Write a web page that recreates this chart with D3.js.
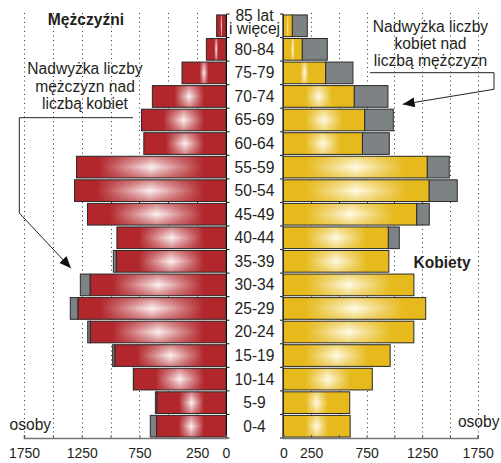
<!DOCTYPE html>
<html>
<head>
<meta charset="utf-8">
<script src="https://cdn.jsdelivr.net/npm/d3@7/dist/d3.min.js"></script>
<style>
  html, body { margin: 0; padding: 0; background: #fff; }
  svg { display: block; font-family: "Liberation Sans", Arial, sans-serif; }
</style>
</head>
<body>
<svg id="chart" width="501" height="463"></svg>
<script>
// ---- data ----
const ageGroups = ["85 lat|i więcej", "80-84", "75-79", "70-74", "65-69", "60-64", "55-59", "50-54",
  "45-49", "40-44", "35-39", "30-34", "25-29", "20-24", "15-19", "10-14", "5-9", "0-4"];
const men   = [81, 170, 381, 638, 732, 712, 1295, 1312, 1200, 945, 976, 1262, 1349, 1198, 982, 803, 612, 656];
const women = [216, 396, 627, 942, 990, 954, 1494, 1566, 1314, 1044, 950, 1176, 1282, 1175, 962, 801, 598, 602];
const tickValues = [0, 250, 500, 750, 1000, 1250, 1500, 1750];
const labeledTicks = [0, 250, 750, 1250, 1750];

const rows = ageGroups.map((a, i) => ({ age: a, men: men[i], women: women[i], i }));

const svg = d3.select("#chart");
const defs = svg.append("defs");

const y = d3.scaleBand().domain(ageGroups).range([14, 438]).paddingInner(0.08).paddingOuter(0.04);
const xL = d3.scaleLinear().domain([0, 1750]).range([226, 24]);
const xR = d3.scaleLinear().domain([0, 1750]).range([283.3, 477.7]);

const RED = "#b1272c", RED_L = "#fdf2f2";
const YEL = "#e6b91c", YEL_L = "#fffbe8";
const GREY = "#7d8285";
const TXT = "#231f20";

// vertical shading overlays
function vOverlay(id, color) {
  const g = defs.append("linearGradient").attr("id", id).attr("x1", 0).attr("x2", 0).attr("y1", 0).attr("y2", 1);
  g.append("stop").attr("offset", 0).attr("stop-color", color).attr("stop-opacity", 0.55);
  g.append("stop").attr("offset", 0.5).attr("stop-color", color).attr("stop-opacity", 0);
  g.append("stop").attr("offset", 1).attr("stop-color", color).attr("stop-opacity", 0.55);
}
vOverlay("vRed", RED);
vOverlay("vYel", YEL);

function hGrad(id, w, dark, light) {
  const m = Math.min(22, 0.4 * w) / w;
  const g = defs.append("linearGradient").attr("id", id).attr("x1", 0).attr("x2", 1).attr("y1", 0).attr("y2", 0);
  [[0, dark], [m, dark], [0.5, light], [1 - m, dark], [1, dark]].forEach(([o, c]) =>
    g.append("stop").attr("offset", o).attr("stop-color", c));
}

// ---- gridlines ----
const grid = svg.append("g").attr("stroke", "#333").attr("stroke-width", 1).attr("stroke-dasharray", "1,3.5");
grid.selectAll(".gl").data(tickValues.filter(d => d > 0)).join("line")
  .attr("x1", d => Math.round(xL(d)) + 0.5).attr("x2", d => Math.round(xL(d)) + 0.5)
  .attr("y1", 13).attr("y2", 436);
grid.selectAll(".gr").data(tickValues.filter(d => d > 0)).join("line")
  .attr("x1", d => Math.round(xR(d)) + 0.5).attr("x2", d => Math.round(xR(d)) + 0.5)
  .attr("y1", 13).attr("y2", 436);

// ---- bars ----
const bh = y.bandwidth();
const left = svg.append("g");
rows.forEach(r => {
  const y0 = y(r.age);
  const mn = Math.min(r.men, r.women);
  // male excess (grey, left)
  if (r.men > r.women) {
    left.append("rect").attr("x", xL(r.men)).attr("y", y0).attr("width", xL(r.women) - xL(r.men)).attr("height", bh)
      .attr("fill", GREY).attr("stroke", "#2a2a2a").attr("stroke-width", 1);
  }
  const wl = xL(0) - xL(mn);
  hGrad("hr" + r.i, wl, RED, RED_L);
  left.append("rect").attr("x", xL(mn)).attr("y", y0).attr("width", wl).attr("height", bh).attr("fill", `url(#hr${r.i})`);
  left.append("rect").attr("x", xL(mn)).attr("y", y0).attr("width", wl).attr("height", bh).attr("fill", "url(#vRed)")
    .attr("stroke", "#2a2a2a").attr("stroke-width", 1);

  // female excess (grey, right)
  if (r.women > r.men) {
    left.append("rect").attr("x", xR(r.men)).attr("y", y0).attr("width", xR(r.women) - xR(r.men)).attr("height", bh)
      .attr("fill", GREY).attr("stroke", "#2a2a2a").attr("stroke-width", 1);
  }
  const wr = xR(mn) - xR(0);
  hGrad("hy" + r.i, wr, YEL, YEL_L);
  left.append("rect").attr("x", xR(0)).attr("y", y0).attr("width", wr).attr("height", bh).attr("fill", `url(#hy${r.i})`);
  left.append("rect").attr("x", xR(0)).attr("y", y0).attr("width", wr).attr("height", bh).attr("fill", "url(#vYel)")
    .attr("stroke", "#2a2a2a").attr("stroke-width", 1);
});

// ---- central vertical axes with row ticks ----
const bounds = ageGroups.map(a => y(a) - (y.step() - bh) / 2).concat([438]);
const ax = svg.append("g").attr("stroke", "#111").attr("stroke-width", 1);
ax.append("line").attr("x1", 226.5).attr("x2", 226.5).attr("y1", 14).attr("y2", 438);
ax.append("line").attr("x1", 283).attr("x2", 283).attr("y1", 14).attr("y2", 438);
ax.selectAll(".tl").data(bounds).join("line").attr("x1", 226.5).attr("x2", 229.5).attr("y1", d => d).attr("y2", d => d);
ax.selectAll(".tr").data(bounds).join("line").attr("x1", 280).attr("x2", 283).attr("y1", d => d).attr("y2", d => d);

// ---- bottom axes ----
function bottomAxis(scale) {
  const g = svg.append("g").attr("transform", "translate(0,438)")
    .call(d3.axisBottom(scale).tickValues(tickValues).tickSize(-3).tickPadding(9)
      .tickFormat(d => labeledTicks.includes(d) ? d : ""));
  g.select(".domain").attr("stroke", "#777").attr("stroke-width", 1.6);
  g.selectAll(".tick line").attr("stroke", "#555");
  g.selectAll(".tick text").attr("fill", TXT).attr("font-size", 14)
    .attr("font-family", "'Liberation Sans', Arial, sans-serif").attr("dy", "0.71em").attr("y", 10);
  return g;
}
bottomAxis(xL);
bottomAxis(xR);

// ---- age labels ----
const lab = svg.append("g").attr("fill", TXT).attr("font-size", 15.6).attr("text-anchor", "middle");
rows.forEach(r => {
  const cy = y(r.age) + bh / 2;
  const parts = r.age.split("|");
  if (parts.length === 2) {
    lab.append("text").attr("x", 254.5).attr("y", 20.7).text(parts[0]);
    lab.append("text").attr("x", 254.5).attr("y", 33.5).text(parts[1]);
  } else {
    lab.append("text").attr("x", 254.5).attr("y", cy + 5.4).text(parts[0]);
  }
});

// ---- titles & notes ----
const t = svg.append("g").attr("fill", TXT).attr("font-size", 15.6).attr("text-anchor", "middle");
t.append("text").attr("x", 86).attr("y", 25).attr("font-weight", "bold").text("Mężczyźni");
t.append("text").attr("x", 442).attr("y", 268.3).attr("font-weight", "bold").text("Kobiety");
["Nadwyżka liczby", "mężczyzn nad", "liczbą kobiet"].forEach((s, i) =>
  t.append("text").attr("x", 85).attr("y", 74 + i * 17.6).text(s));
["Nadwyżka liczby", "kobiet nad", "liczbą mężczyzn"].forEach((s, i) =>
  t.append("text").attr("x", 430.5).attr("y", 31.7 + i * 17.2).text(s));
t.append("text").attr("x", 30.3).attr("y", 430).text("osoby");
t.append("text").attr("x", 478.7).attr("y", 427.3).text("osoby");

// ---- leader lines with arrows ----
defs.append("marker").attr("id", "arr").attr("viewBox", "0 0 12 10").attr("refX", 12).attr("refY", 5)
  .attr("markerWidth", 12).attr("markerHeight", 10).attr("markerUnits", "userSpaceOnUse").attr("orient", "auto")
  .append("path").attr("d", "M0,0 L12,5 L0,10 Z").attr("fill", "#111");
svg.append("polyline").attr("points", "133,117.7 19.3,117.7 19.3,213 71,268.3")
  .attr("fill", "none").attr("stroke", "#222").attr("stroke-width", 1).attr("marker-end", "url(#arr)");
svg.append("polyline").attr("points", "370,72.7 494,72.7 494,89.3 402.7,104.3")
  .attr("fill", "none").attr("stroke", "#222").attr("stroke-width", 1).attr("marker-end", "url(#arr)");
</script>
</body>
</html>
